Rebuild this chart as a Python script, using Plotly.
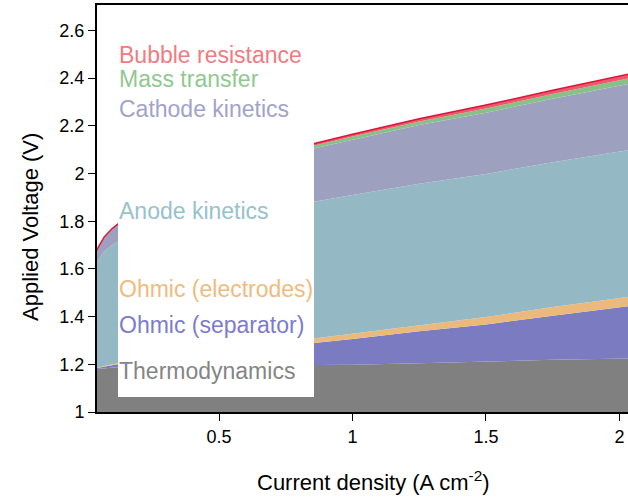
import plotly.graph_objects as go

# Current density (A cm^-2)
current_density = [0.04, 0.07, 0.10, 0.13, 0.20, 0.30, 0.50, 0.70, 0.85, 1.00, 1.25, 1.50, 1.75, 2.05]

# Voltage contributions (V), stacked from bottom to top
thermodynamics = [1.180, 1.184, 1.187, 1.189, 1.191, 1.192, 1.194, 1.195, 1.196, 1.198, 1.204, 1.212, 1.219, 1.225]
ohmic_separator = [0.004, 0.007, 0.010, 0.013, 0.021, 0.032, 0.053, 0.075, 0.091, 0.108, 0.135, 0.155, 0.185, 0.221]
ohmic_electrodes = [0.001, 0.002, 0.003, 0.003, 0.004, 0.006, 0.011, 0.016, 0.021, 0.023, 0.026, 0.031, 0.036, 0.039]
anode_kinetics = [0.440, 0.480, 0.500, 0.515, 0.535, 0.548, 0.560, 0.567, 0.572, 0.581, 0.592, 0.600, 0.607, 0.616]
cathode_kinetics = [0.047, 0.057, 0.065, 0.072, 0.095, 0.125, 0.175, 0.208, 0.224, 0.232, 0.246, 0.257, 0.266, 0.278]
mass_transfer = [0.0015, 0.002, 0.002, 0.002, 0.003, 0.004, 0.006, 0.009, 0.011, 0.013, 0.015, 0.018, 0.020, 0.023]
bubble_resistance = [0.002, 0.002, 0.002, 0.002, 0.003, 0.004, 0.005, 0.007, 0.009, 0.010, 0.012, 0.014, 0.016, 0.018]

series = [
    ("Thermodynamics", thermodynamics, "#808080", "#858585"),
    ("Ohmic (separator)", ohmic_separator, "#7b7bc2", "#7b7bd0"),
    ("Ohmic (electrodes)", ohmic_electrodes, "#ebb97b", "#f0bb80"),
    ("Anode kinetics", anode_kinetics, "#94b9c4", "#96c2cc"),
    ("Cathode kinetics", cathode_kinetics, "#9ea0c0", "#a2a2cc"),
    ("Mass transfer", mass_transfer, "#88c088", "#8fc98f"),
    ("Bubble resistance", bubble_resistance, "#ec5a6e", "#f17b80"),
]

label_y_px = {
    "Bubble resistance": 55,
    "Mass transfer": 79,
    "Cathode kinetics": 109,
    "Anode kinetics": 211,
    "Ohmic (electrodes)": 289,
    "Ohmic (separator)": 325,
    "Thermodynamics": 371,
}

fig = go.Figure()
for name, vals, fillc, textc in series:
    is_top = name == "Bubble resistance"
    fig.add_trace(go.Scatter(
        x=current_density, y=vals, name=name, mode="lines",
        stackgroup="one", fillcolor=fillc,
        line=dict(width=1.5 if is_top else 0, color="#dc143c" if is_top else fillc),
        hoverinfo="skip",
    ))

# plot area geometry in pixels
L, T, B, W, H = 97, 5, 87, 628, 499
pw = W - L
ph = H - T - B
bottom_px = H - B

def py(ypix):
    return (bottom_px - ypix) / ph

def px(xpix):
    return (xpix - L) / pw

annotations = []
for name, vals, fillc, textc in series:
    annotations.append(dict(
        x=px(117), y=py(label_y_px[name]), xref="paper", yref="paper",
        text=name, showarrow=False, xanchor="left", yanchor="middle",
        font=dict(family="Arial, Liberation Sans, sans-serif", size=23, color=textc),
    ))

annotations.append(dict(
    x=px(31), y=py(227), xref="paper", yref="paper", text="Applied Voltage (V)",
    showarrow=False, textangle=-90, xanchor="center", yanchor="middle",
    font=dict(family="Arial, Liberation Sans, sans-serif", size=22, color="black"),
))
annotations.append(dict(
    x=px(373), y=py(481), xref="paper", yref="paper",
    text="Current density (A cm<sup>-2</sup>)",
    showarrow=False, xanchor="center", yanchor="middle",
    font=dict(family="Arial, Liberation Sans, sans-serif", size=22, color="black"),
))

fig.update_layout(
    width=W, height=H,
    margin=dict(l=L, r=0, t=T, b=B, pad=0),
    paper_bgcolor="white", plot_bgcolor="white",
    showlegend=False,
    hovermode=False,
    annotations=annotations,
    shapes=[dict(
        type="rect", xref="paper", yref="paper",
        x0=px(118), x1=px(314), y0=py(397), y1=py(35),
        fillcolor="white", line=dict(width=0), layer="above",
    )],
    xaxis=dict(
        range=[0.043, 2.032], tick0=0, dtick=0.5,
        showline=True, linecolor="black", linewidth=2, mirror=True,
        ticks="outside", ticklen=7, tickcolor="black", tickwidth=1,
        showgrid=False, zeroline=False,
        tickfont=dict(family="Arial, Liberation Sans, sans-serif", size=18, color="black"),
    ),
    yaxis=dict(
        range=[1, 2.7065], tick0=1, dtick=0.2,
        showline=True, linecolor="black", linewidth=2, mirror=False,
        ticks="outside", ticklen=7, tickcolor="black", tickwidth=1,
        showgrid=False, zeroline=False,
        tickfont=dict(family="Arial, Liberation Sans, sans-serif", size=18, color="black"),
    ),
)

fig.write_html("out.html")
